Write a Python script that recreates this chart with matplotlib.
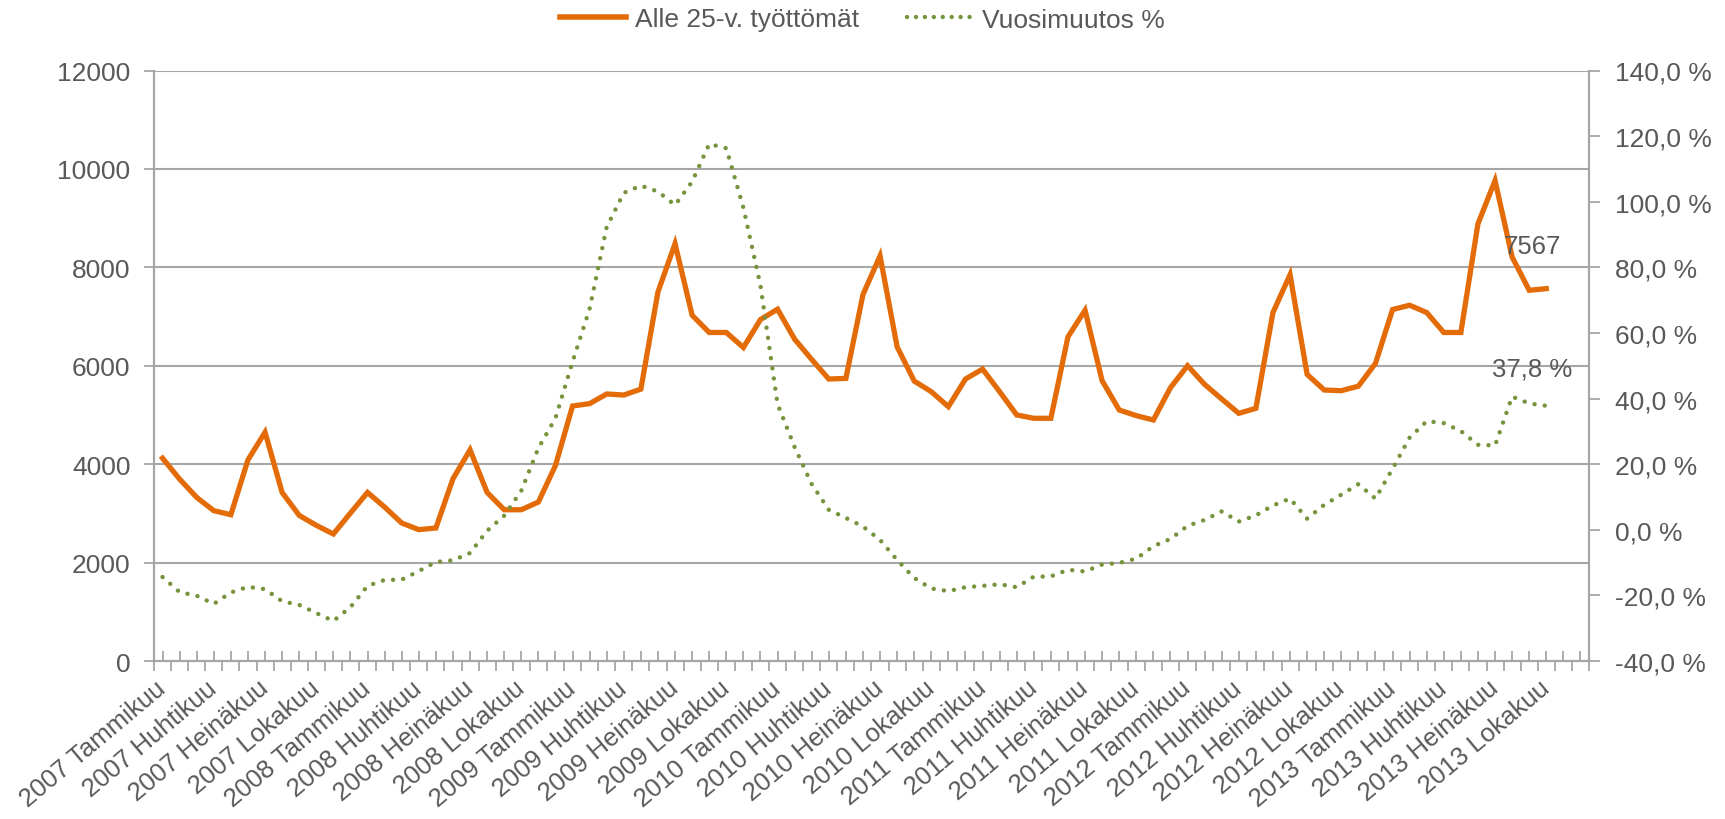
import numpy as np
import matplotlib
matplotlib.use("Agg")
import matplotlib.pyplot as plt
from matplotlib.lines import Line2D

plt.rcParams['font.family'] = ['Liberation Sans', 'DejaVu Sans']

years = [2007, 2008, 2009, 2010, 2011, 2012, 2013]
months = ['Tammikuu', 'Helmikuu', 'Maaliskuu', 'Huhtikuu', 'Toukokuu', 'Kesäkuu',
          'Heinäkuu', 'Elokuu', 'Syyskuu', 'Lokakuu', 'Marraskuu', 'Joulukuu']
categories = [f"{y} {m}" for y in years for m in months]

# alle 25-vuotiaat työttömät, 2007/01 - 2013/10
alle25 = [4121, 3696, 3324, 3054, 2973, 4088, 4648, 3425, 2959, 2757, 2581, 3007,
          3425, 3128, 2804, 2669, 2703, 3703, 4290, 3425, 3074, 3074, 3230, 3973,
          5182, 5230, 5426, 5405, 5525, 7500, 8480, 7027, 6676, 6676, 6371, 6939,
          7149, 6540, 6128, 5730, 5743, 7446, 8233, 6385, 5689, 5473, 5169, 5730,
          5932, 5473, 5000, 4932, 4932, 6588, 7128, 5696, 5101, 4986, 4898, 5554,
          6000, 5621, 5324, 5033, 5135, 7081, 7851, 5824, 5507, 5493, 5585, 6047,
          7142, 7230, 7081, 6676, 6676, 8885, 9763, 8209, 7534, 7567]

# vuosimuutos %
muutos = [-14.4, -19.0, -20.1, -22.6, -19.1, -17.4, -18.1, -21.8, -22.9, -25.4, -27.8, -23.6,
          -17.1, -15.3, -15.2, -12.6, -9.8, -9.3, -7.1, -0.3, 4.3, 11.9, 24.9, 34.0,
          51.2, 67.4, 92.3, 102.7, 104.9, 103.1, 99.0, 106.1, 117.6, 116.3, 98.2, 74.5,
          38.3, 25.2, 13.9, 6.1, 3.6, 1.0, -3.1, -9.2, -14.7, -17.9, -18.7, -17.5,
          -17.1, -16.6, -17.5, -14.3, -14.2, -12.2, -12.7, -10.6, -10.1, -8.8, -5.0, -2.8,
          1.2, 3.0, 5.6, 2.5, 4.4, 7.4, 9.5, 3.4, 7.6, 10.7, 13.9, 9.5,
          18.6, 28.1, 33.1, 32.5, 30.1, 25.9, 25.7, 40.6, 38.5, 37.8]

orange = '#E36C09'
green = '#77933C'
gray = '#A6A6A6'
txt = '#595959'
fs = 19

fig = plt.figure(figsize=(17.25, 8.2), dpi=100)
ax = fig.add_axes([154/1725, 1 - 662/820, (1589 - 154)/1725, (662 - 71.5)/820])
ax2 = ax.twinx()

x = np.arange(len(alle25))
ax.plot(x, alle25, color=orange, lw=3.8, solid_joinstyle='miter', zorder=3)
ax2.plot(x, muutos, color=green, lw=3.2, linestyle=(0, (0.01, 2.3)),
         dash_capstyle='round', zorder=3)

ax.set_xlim(-0.5, len(categories) - 0.5)
ax.set_ylim(0, 12000)
ax2.set_ylim(-40, 140)

ax.set_yticks(np.arange(0, 12001, 2000))
ax.yaxis.grid(True, color=gray, lw=1.5)
ax.set_axisbelow(True)
ax2.set_yticks(np.arange(-40, 141, 20))
ax2.set_yticklabels([f"{v:.1f} %".replace('.', ',') for v in np.arange(-40, 141, 20)])

ax.set_xticks(x.tolist() + [82, 83])
ax.set_xticklabels([c if i % 3 == 0 else '' for i, c in enumerate(categories)],
                   rotation=40, ha='right', va='center', rotation_mode='anchor')
ax.set_xticks(np.arange(-0.5, len(categories), 1), minor=True)
ax.tick_params(axis='x', which='major', direction='in', length=7, width=1.3,
               color=gray, labelsize=18.5, labelcolor=txt, pad=17)
ax.tick_params(axis='x', which='minor', direction='out', length=7, width=1.3, color=gray)
ax.tick_params(axis='y', direction='out', length=7, width=1.3, color=gray,
               labelsize=fs, labelcolor=txt, pad=10)
ax2.tick_params(axis='y', direction='out', length=8, width=1.3, color=gray,
                labelsize=fs, labelcolor=txt, pad=11)

for a in (ax, ax2):
    a.spines['top'].set_visible(False)
    for s in ('left', 'right', 'bottom'):
        a.spines[s].set_color(gray)
        a.spines[s].set_linewidth(1.5)

ax.annotate(f"{alle25[-1]}", (x[-1], alle25[-1]), xytext=(-14, 43),
            textcoords='offset pixels', ha='center', va='center', fontsize=18.5, color=txt)
ax2.annotate(f"{muutos[-1]:.1f} %".replace('.', ','), (x[-1], muutos[-1]), xytext=(-14, 37),
             textcoords='offset pixels', ha='center', va='center', fontsize=18.5, color=txt)

handles = [Line2D([], [], color=orange, lw=4),
           Line2D([], [], color=green, lw=3.2, linestyle=(0, (0.01, 2.0)), dash_capstyle='round')]
fig.legend(handles, ['Alle 25-v. työttömät', 'Vuosimuutos %'], loc='center',
           bbox_to_anchor=(0.5, 0.975), ncol=2, frameon=False, fontsize=fs,
           handlelength=2.5, handletextpad=0.35, columnspacing=1.8, labelcolor=txt)

fig.savefig('out.png', dpi=100, facecolor='white')
